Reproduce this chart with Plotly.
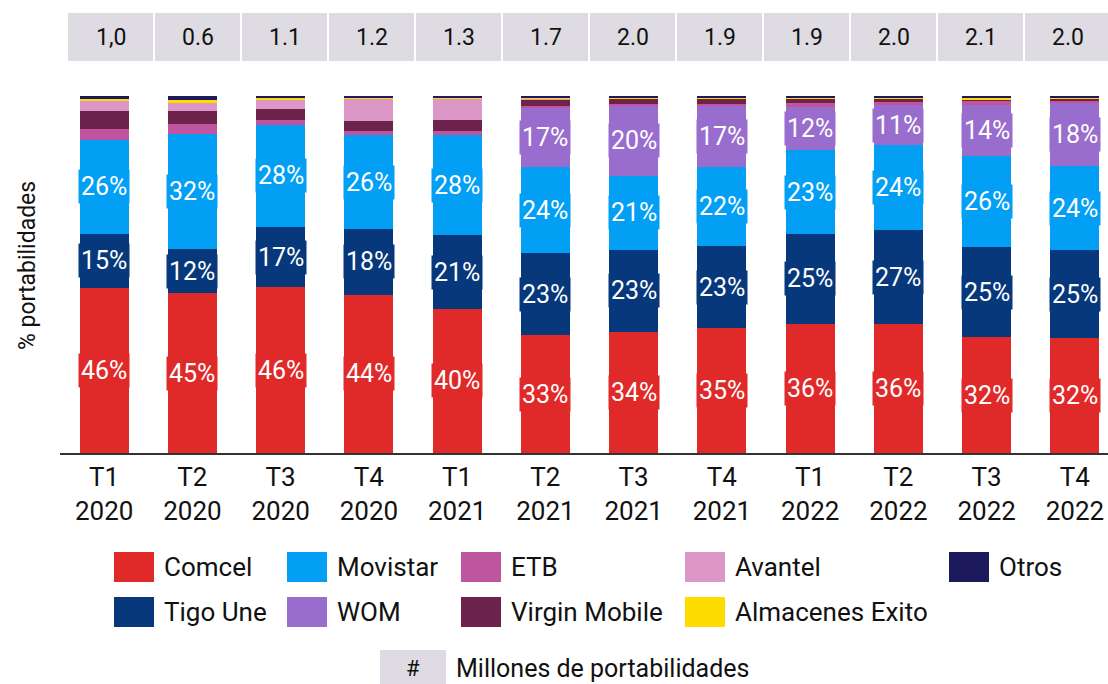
import plotly.graph_objects as go

# quarters and totals (millions of portings)
trimestres = ["T1<br>2020", "T2<br>2020", "T3<br>2020", "T4<br>2020",
              "T1<br>2021", "T2<br>2021", "T3<br>2021", "T4<br>2021",
              "T1<br>2022", "T2<br>2022", "T3<br>2022", "T4<br>2022"]
millones = ["1,0", "0.6", "1.1", "1.2", "1.3", "1.7", "2.0", "1.9", "1.9", "2.0", "2.1", "2.0"]

# shares (%), stacked bottom to top
comcel = [46.3, 44.8, 46.4, 44.3, 40.4, 33.0, 34.0, 35.0, 36.2, 36.0, 32.4, 32.2]
tigo = [15.1, 12.3, 17.0, 18.5, 20.6, 23.0, 22.9, 23.0, 25.2, 26.6, 25.2, 24.6]
movistar = [26.3, 32.3, 28.4, 26.2, 28.0, 24.0, 20.8, 22.0, 23.4, 23.6, 25.6, 23.6]
wom = [0, 0, 0, 0, 0, 16.8, 19.5, 17.3, 12.0, 11.2, 14.3, 17.7]
etb = [3.1, 2.8, 1.5, 1.2, 1.1, 0.5, 0.5, 0.5, 1.3, 0.9, 1.3, 0.6]
virgin = [5.0, 3.5, 3.0, 2.9, 3.2, 1.7, 1.5, 1.4, 1.1, 0.9, 0.3, 0.5]
avantel = [2.8, 2.6, 2.8, 6.2, 6.0, 0.3, 0, 0, 0, 0, 0, 0]
exito = [0.6, 0.5, 0.3, 0.3, 0.4, 0.3, 0.4, 0.4, 0.4, 0.4, 0.5, 0.4]
otros = [0.8, 1.2, 0.6, 0.4, 0.3, 0.4, 0.4, 0.4, 0.4, 0.4, 0.4, 0.4]

series = [
    ("Comcel", comcel, "#e02a2a", True),
    ("Tigo Une", tigo, "#06387b", True),
    ("Movistar", movistar, "#039ff5", True),
    ("WOM", wom, "#996dcd", True),
    ("ETB", etb, "#c0559f", False),
    ("Virgin Mobile", virgin, "#6e234d", False),
    ("Avantel", avantel, "#dc96c8", False),
    ("Almacenes Exito", exito, "#ffdc00", False),
    ("Otros", otros, "#1c1a5c", False),
]
colores = {name: col for name, _, col, _ in series}

FONT = "Roboto"
W, H = 1108, 684
L, TOP, BASE = 60, 96, 453


def px(x):
    # pixel -> paper x
    return (x - L) / (W - L)


def py(y):
    # pixel -> paper y
    return (BASE - y) / (BASE - TOP)


fig = go.Figure()
x = list(range(len(trimestres)))
annotations = []
base = [0.0] * len(x)
for name, vals, col, label in series:
    fig.add_trace(go.Bar(x=x, y=vals, name=name, marker=dict(color=col, line=dict(width=0)),
                         showlegend=False, hoverinfo="name+y"))
    if label:
        for i, v in enumerate(vals):
            if v > 0:
                annotations.append(dict(
                    x=i, y=base[i] + v / 2, xref="x", yref="y", text=f"{round(v)}%",
                    showarrow=False, bgcolor=col, borderpad=2,
                    xanchor="center", yanchor="middle",
                    font=dict(family=FONT, size=25, color="white")))
    base = [b + v for b, v in zip(base, vals)]

shapes = []
# grey boxes with millions
for i, m in enumerate(millones):
    x0 = 68 + 87 * i
    shapes.append(dict(type="rect", xref="paper", yref="paper", x0=px(x0), x1=px(x0 + 85),
                       y0=py(61), y1=py(13), fillcolor="#dedce2", line=dict(width=0), layer="below"))
    annotations.append(dict(x=px(x0 + 42.5), y=py(38), xref="paper", yref="paper", text=m,
                            xanchor="center", yanchor="middle", showarrow=False,
                            font=dict(family=FONT, size=23, color="#111111")))

# custom legend
leg_rows = [["Comcel", "Movistar", "ETB", "Avantel", "Otros"],
            ["Tigo Une", "WOM", "Virgin Mobile", "Almacenes Exito"]]
leg_x = [114, 287, 461, 685, 949]
leg_y = [552, 597]
for r, row in enumerate(leg_rows):
    for c, name in enumerate(row):
        x0, y0 = leg_x[c], leg_y[r]
        shapes.append(dict(type="rect", xref="paper", yref="paper", x0=px(x0), x1=px(x0 + 40),
                           y0=py(y0 + 30), y1=py(y0), fillcolor=colores[name], line=dict(width=0)))
        annotations.append(dict(x=px(x0 + 48), y=py(y0 + 15), xref="paper", yref="paper", text=name,
                                xanchor="left", yanchor="middle", showarrow=False,
                                font=dict(family=FONT, size=26, color="#111111")))

# footnote
shapes.append(dict(type="rect", xref="paper", yref="paper", x0=px(380), x1=px(446),
                   y0=py(686), y1=py(650), fillcolor="#dedce2", line=dict(width=0)))
annotations.append(dict(x=px(413), y=py(668), xref="paper", yref="paper", text="#", showarrow=False,
                        xanchor="center", yanchor="middle",
                        font=dict(family=FONT, size=22, color="#111111")))
annotations.append(dict(x=px(454), y=py(668), xref="paper", yref="paper", text="Millones de portabilidades",
                        xanchor="left", yanchor="middle", showarrow=False,
                        font=dict(family=FONT, size=25, color="#111111")))

# y title
annotations.append(dict(x=px(27), y=py(266), xref="paper", yref="paper", text="% portabilidades",
                        textangle=-90, xanchor="center", yanchor="middle", showarrow=False,
                        font=dict(family=FONT, size=23, color="#111111")))

fig.update_layout(
    barmode="stack", bargap=0.445,
    width=W, height=H,
    margin=dict(l=L, r=0, t=TOP, b=H - BASE, pad=0),
    plot_bgcolor="white", paper_bgcolor="white",
    shapes=shapes, annotations=annotations,
    font=dict(family=FONT, color="#111111"),
)
fig.update_xaxes(tickmode="array", tickvals=x, ticktext=trimestres, range=[-0.5, 11.375],
                 showline=True, linecolor="#333333", linewidth=2, showgrid=False, ticks="",
                 tickfont=dict(family=FONT, size=26, color="#111111"))
fig.update_yaxes(range=[0, 100], visible=False)

fig.write_html("out.html", config={"displayModeBar": False},
               post_script="document.body.style.margin='0';document.body.style.overflow='hidden';")
